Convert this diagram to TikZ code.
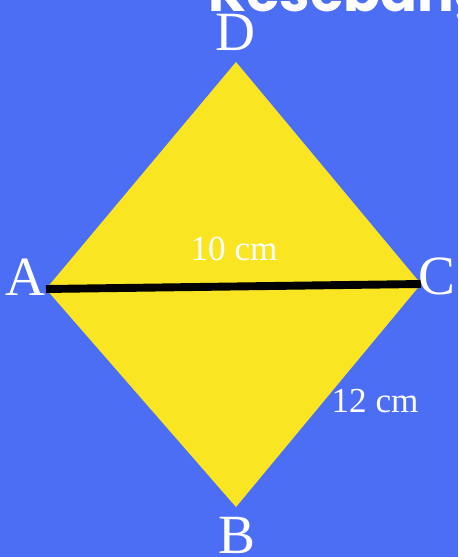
\documentclass[tikz,border=0pt]{standalone}
\usepackage{fontspec}
\setmainfont{Liberation Serif}
\newfontfamily\titlefont{Poppins}
\usepackage{xcolor}
\usetikzlibrary{positioning}
\definecolor{bgblue}{RGB}{76,110,245}
\definecolor{kiteyellow}{RGB}{250,229,35}

\begin{document}
\begin{tikzpicture}[
  x=0.02cm, y=-0.02cm,
  vlab/.style={text=white, inner sep=0pt, font=\fontsize{31.5}{36}\selectfont},
  len/.style={text=white, inner sep=0pt, font=\fontsize{20}{24}\selectfont},
  diag/.style={line width=4.5pt, black},
  kite/.style={fill=kiteyellow, draw=none}]

\fill[bgblue] (0,0) rectangle (458,557);
\useasboundingbox (0,0) rectangle (458,557);

\begin{scope}
\clip (0,0) rectangle (458,557);
\node[anchor=base west, inner sep=0pt, text=white, font=\titlefont\bfseries\fontsize{31}{36}\selectfont] (title) at (208,12) {Kesebang};
\end{scope}

\coordinate (D) at (236,62);
\coordinate (A) at (46,289);
\coordinate (C) at (421,284);
\coordinate (B) at (236,507);

\fill[kite] (D) -- (C) -- (B) -- (A) -- cycle;
\draw[diag] (A) -- (C);

\node[vlab] (labD) at (235,32) {D};
\node[vlab] (labA) at (25,277) {A};
\node[vlab] (labC) at (437,276) {C};
\node[vlab] (labB) at (237,535) {B};
\node[len] (ac) at (234,249) {10 cm};
\node[len] (bc) at (375,401) {12 cm};
\end{tikzpicture}
\end{document}
